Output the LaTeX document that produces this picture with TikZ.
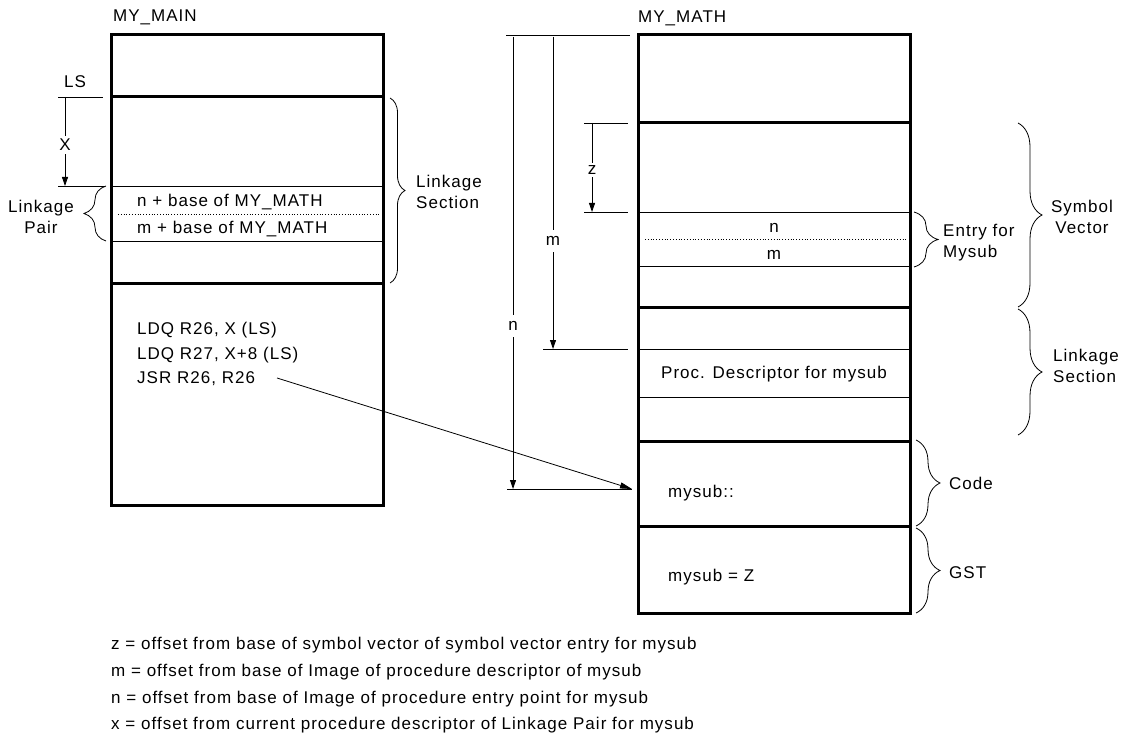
\documentclass[tikz,border=0pt]{standalone}
\usepackage{fontspec}
\setmainfont{Liberation Sans}[LetterSpace=6]
\usetikzlibrary{arrows.meta,decorations.pathreplacing}
\begin{document}
\begin{tikzpicture}[x=1pt,y=-1pt,
  thickln/.style={line width=3pt},
  thinln/.style={line width=0.8pt},
  dotln/.style={line width=0.8pt,dotted},
  dimln/.style={line width=0.8pt},
  dimarrow/.style={line width=0.8pt,-{Triangle[length=9pt,width=6pt]}},
  lbl/.style={font=\fontsize{17}{20}\selectfont,inner sep=0pt},
  lblw/.style={lbl,anchor=west},
  gaplbl/.style={lbl,fill=white,inner sep=3pt},
  bracer/.style={line width=0.8pt,decorate,decoration={brace,amplitude=#1}},
]
\path[use as bounding box] (0,0) rectangle (1121,738);

% ---------- MY_MAIN box ----------
\coordinate (LA) at (111,35);
\coordinate (LB) at (383,505);
\draw[thickln] (LA) rectangle (LB);
\draw[thickln] (111,97) -- (383,97);
\draw[thickln] (111,283) -- (383,283);
\draw[thinln] (111,186) -- (383,186);
\draw[thinln] (111,241) -- (383,241);
\draw[dotln] (118,214) -- (380,214);
\node[lblw] (mymain) at (113,17) {MY\_MAIN};

\node[lblw] (nbase) at (137,202) {n + base of MY\_MATH};
\node[lblw] (mbase) at (137,229) {m + base of MY\_MATH};
\node[lblw] (ldq1) at (137,330) {LDQ R26, X (LS)};
\node[lblw] (ldq2) at (137,355) {LDQ R27, X+8 (LS)};
\node[lblw] (jsr) at (137,379) {JSR R26, R26};

% LS / X
\node[lbl] (ls) at (75,82) {LS};
\coordinate (lsL) at (58,97);
\coordinate (lsR) at (103,97);
\draw[dimln] (lsL) -- (lsR);
\coordinate (xL) at (58,186);
\coordinate (xR) at (105,186);
\draw[dimln] (xL) -- (xR);
\coordinate (xtop) at (65,97);
\coordinate (xbot) at (65,186);
\draw[dimarrow] (xtop) -- (xbot);
\node[gaplbl] (xlbl) at (65,145) {X};

% Linkage Pair brace (left)
\coordinate (lpb) at (106,241);
\coordinate (lpt) at (106,186);
\draw[bracer=22pt] (lpb) -- (lpt);
\node[lbl,align=center] (lpair) at (41,217) {Linkage\\[1pt]Pair};

% Linkage Section brace (left box)
\coordinate (lsa) at (390,98);
\coordinate (lsb) at (390,283);
\draw[bracer=15pt] (lsa) -- (lsb);
\node[lblw,align=left] (lsec1) at (416,192) {Linkage\\[1pt]Section};

% ---------- MY_MATH box ----------
\coordinate (RA) at (638,35);
\coordinate (RB) at (910,613);
\draw[thickln] (RA) rectangle (RB);
\draw[thickln] (638,123) -- (910,123);
\draw[thickln] (638,307) -- (910,307);
\draw[thickln] (638,441) -- (910,441);
\draw[thickln] (638,526) -- (910,526);
\draw[thinln] (638,212) -- (910,212);
\draw[thinln] (638,266) -- (910,266);
\draw[thinln] (638,349) -- (910,349);
\draw[thinln] (638,397) -- (910,397);
\draw[dotln] (645,239) -- (906,239);
\node[lblw] (mymath) at (638,18) {MY\_MATH};

\node[lbl] (nent) at (774,228) {n};
\node[lbl] (ment) at (774,255) {m};
\node[lbl] (proc) at (774,374) {Proc. Descriptor for mysub};
\node[lblw] (mysubc) at (668,493) {mysub::};
\node[lblw] (mysubz) at (668,577) {mysub = Z};

% extension lines
\coordinate (topL) at (506,35);
\coordinate (topR) at (630,35);
\draw[dimln] (topL) -- (topR);
\draw[dimln] (584,123) -- (628,123);
\draw[dimln] (584,212) -- (628,212);
\draw[dimln] (543,349) -- (628,349);
\coordinate (nL) at (507,489);
\coordinate (entry) at (632,489);
\draw[dimln] (nL) -- (entry);

% z, m, n dimension arrows
\coordinate (ztop) at (592,123);
\coordinate (zbot) at (592,212);
\draw[dimarrow] (ztop) -- (zbot);
\node[gaplbl] (zlbl) at (592,170) {z};
\coordinate (mtop) at (553,37);
\coordinate (mbot) at (553,349);
\draw[dimarrow] (mtop) -- (mbot);
\node[gaplbl,inner ysep=6pt] (mlbl) at (553,241) {m};
\coordinate (ntop) at (513,37);
\coordinate (nbot) at (513,489);
\draw[dimarrow] (ntop) -- (nbot);
\node[gaplbl,inner ysep=6pt] (nlbl) at (513,326) {n};

% JSR arrow
\coordinate (jsrend) at (277,378);
\draw[line width=0.8pt,-{Triangle[length=12pt,width=6pt]}] (jsrend) -- (entry);

% right braces
\draw[bracer=24pt] (914,212) -- (914,267);
\node[lblw,align=left] (entryfor) at (943,243) {Entry for\\[1pt]Mysub};
\draw[bracer=24pt] (1018,123) -- (1018,307);
\node[lbl,align=center] (symvec) at (1082,217) {Symbol\\[1pt]Vector};
\draw[bracer=24pt] (1018,309) -- (1018,435);
\node[lblw,align=left] (lsec2) at (1053,366) {Linkage\\[1pt]Section};
\draw[bracer=24pt] (916,440) -- (916,526);
\node[lblw] (code) at (949,483) {Code};
\draw[bracer=24pt] (916,528) -- (916,613);
\node[lblw] (gst) at (949,573) {GST};

% legend
\node[lblw] (leg1) at (111,645) {z = offset from base of symbol vector of symbol vector entry for mysub};
\node[lblw] (leg2) at (111,672) {m = offset from base of Image of procedure descriptor of mysub};
\node[lblw] (leg3) at (111,699) {n = offset from base of Image of procedure entry point for mysub};
\node[lblw] (leg4) at (111,725) {x = offset from current procedure descriptor of Linkage Pair for mysub};
\end{tikzpicture}
\end{document}
